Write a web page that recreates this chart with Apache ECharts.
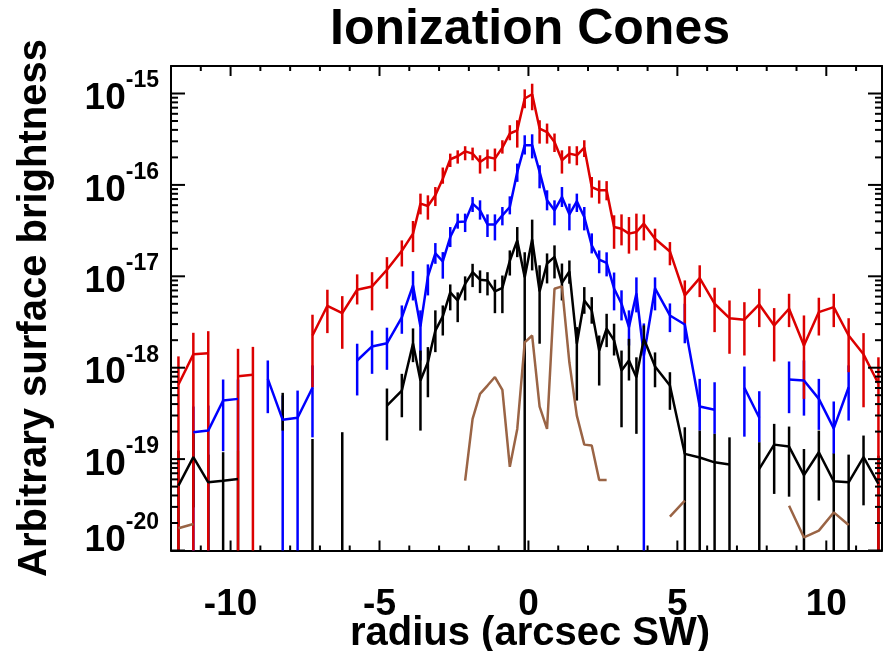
<!DOCTYPE html>
<html>
<head>
<meta charset="utf-8">
<script src="https://cdn.jsdelivr.net/npm/echarts@6/dist/echarts.min.js"></script>
<style>
html,body{margin:0;padding:0;background:#fff;}
#main{width:885px;height:651px;}
</style>
</head>
<body>
<div id="main"></div>
<script>
// ---------------- data ----------------
const titleText = 'Ionization Cones';
const xTitle = 'radius (arcsec SW)';
const yTitle = 'Arbitrary surface brightness';

const xs = [-11.75,-11.25,-10.75,-10.25,-9.75,-9.25,-8.75,-8.25,-7.75,-7.25,-6.75,-6.25,-5.75,-5.25,-4.75,-4.25,
  -3.875,-3.625,-3.375,-3.125,-2.875,-2.625,-2.375,-2.125,-1.875,-1.625,-1.375,-1.125,-0.875,-0.625,-0.375,-0.125,
  0.125,0.375,0.625,0.875,1.125,1.375,1.625,1.875,2.125,2.375,2.625,2.875,3.125,3.375,3.625,3.875,
  4.25,4.75,5.25,5.75,6.25,6.75,7.25,7.75,8.25,8.75,9.25,9.75,10.25,10.75,11.25,11.75];

const redY = [6.55e-19,1.40e-18,1.44e-18,null,8.07e-19,8.36e-19,null,null,null,2.25e-18,4.76e-18,3.95e-18,7.13e-18,7.75e-18,1.18e-17,1.90e-17,
  2.93e-17,6.24e-17,5.87e-17,7.69e-17,1.17e-16,1.91e-16,2.06e-16,2.33e-16,2.20e-16,1.78e-16,2.02e-16,1.94e-16,2.56e-16,3.65e-16,3.96e-16,8.81e-16,
  9.82e-16,4.14e-16,3.79e-16,2.95e-16,1.86e-16,2.20e-16,2.11e-16,2.56e-16,9.48e-17,8.73e-17,8.73e-17,3.46e-17,3.32e-17,2.93e-17,3.05e-17,3.77e-17,
  2.58e-17,1.87e-17,6.18e-18,9.55e-18,5.01e-18,3.48e-18,3.35e-18,4.92e-18,2.90e-18,4.42e-18,1.75e-18,4.06e-18,4.60e-18,2.25e-18,1.40e-18,6.67e-19];
const redHi = [1.33e-18,2.41e-18,2.51e-18,null,1.61e-18,1.69e-18,null,null,null,3.80e-18,7.13e-18,6.07e-18,1.05e-17,1.11e-17,1.62e-17,2.47e-17,
  4.03e-17,8.03e-17,7.69e-17,9.48e-17,1.55e-16,2.20e-16,2.39e-16,2.65e-16,2.56e-16,2.11e-16,2.44e-16,2.50e-16,3.08e-16,4.50e-16,5.10e-16,1.11e-15,
  1.28e-15,5.10e-16,4.69e-16,3.65e-16,2.39e-16,2.65e-16,2.65e-16,3.08e-16,1.22e-16,1.12e-16,1.10e-16,4.65e-17,4.76e-17,4.45e-17,4.85e-17,4.76e-17,
  3.32e-17,2.37e-17,9.02e-18,1.32e-17,7.50e-18,5.44e-18,5.21e-18,7.31e-18,4.49e-18,6.44e-18,3.73e-18,5.83e-18,6.44e-18,3.48e-18,2.39e-18,1.30e-18];
const redLo = [0,0,0,null,0,0,null,null,null,6.11e-19,2.39e-18,1.61e-18,4.92e-18,4.24e-18,7.31e-18,1.28e-17,
  1.84e-17,4.76e-17,4.17e-17,5.87e-17,1.03e-16,1.57e-16,1.71e-16,1.86e-16,1.86e-16,1.33e-16,1.51e-16,1.41e-16,2.20e-16,3.08e-16,2.56e-16,6.90e-16,
  6.56e-16,2.83e-16,2.83e-16,2.29e-16,1.33e-16,1.71e-16,1.64e-16,2.02e-16,7.26e-17,6.24e-17,6.78e-17,2.00e-17,2.18e-17,1.77e-17,1.92e-17,2.47e-17,
  1.92e-17,1.32e-17,3.03e-18,5.92e-18,2.45e-18,1.42e-18,1.36e-18,2.78e-18,1.17e-18,2.78e-18,4.56e-19,2.25e-18,2.78e-18,8.93e-19,3.69e-19,0];

const blueY = [null,1.97e-19,2.05e-19,4.37e-19,4.56e-19,null,7.55e-19,2.69e-19,2.83e-19,6.03e-19,null,null,1.20e-18,1.71e-18,1.85e-18,3.55e-18,
  7.94e-18,2.83e-18,9.98e-18,1.78e-17,1.46e-17,2.69e-17,3.93e-17,3.99e-17,6.24e-17,5.27e-17,3.70e-17,3.70e-17,4.65e-17,5.73e-17,1.38e-16,2.72e-16,
  2.72e-16,1.39e-16,6.78e-17,5.27e-17,7.36e-17,4.76e-17,6.61e-17,4.45e-17,2.18e-17,1.52e-17,1.40e-17,7.36e-18,5.01e-18,2.78e-18,6.50e-18,1.36e-18,
  7.36e-18,3.73e-18,2.97e-18,3.76e-19,3.46e-19,null,6.03e-19,2.83e-19,null,7.43e-19,7.24e-19,4.56e-19,2.17e-19,6.11e-19,null,null];
const blueHi = [null,3.76e-19,3.85e-19,7.43e-19,7.43e-19,null,1.20e-18,4.97e-19,5.62e-19,1.06e-18,null,null,1.83e-18,2.55e-18,2.74e-18,4.80e-18,
  1.14e-17,4.24e-18,1.35e-17,2.31e-17,1.84e-17,3.46e-17,4.85e-17,4.85e-17,7.36e-17,6.78e-17,4.76e-17,4.76e-17,5.73e-17,7.50e-17,1.71e-16,3.49e-16,
  3.58e-16,1.64e-16,8.73e-17,6.78e-17,9.48e-17,6.24e-17,8.03e-17,5.73e-17,2.95e-17,1.92e-17,1.83e-17,1.10e-17,7.02e-18,4.24e-18,9.73e-18,3.05e-18,
  9.73e-18,5.05e-18,5.01e-18,7.55e-19,6.93e-19,null,1.03e-18,5.53e-19,null,1.17e-18,1.20e-18,7.55e-19,4.27e-19,1.06e-18,null,null];
const blueLo = [null,0,0,1.22e-19,1.24e-19,null,3.18e-19,0,0,1.73e-19,null,null,4.97e-19,8.57e-19,9.48e-19,2.35e-18,
  5.44e-18,1.20e-18,6.18e-18,1.37e-17,9.42e-18,2.09e-17,3.32e-17,3.05e-17,5.05e-17,4.17e-17,2.69e-17,2.47e-17,3.61e-17,4.76e-17,1.08e-16,2.15e-16,
  1.95e-16,9.18e-17,5.27e-17,3.61e-17,5.73e-17,3.18e-17,5.05e-17,3.18e-17,1.78e-17,1.08e-17,9.98e-18,4.24e-18,3.29e-18,1.75e-18,4.03e-18,0,
  4.24e-18,2.45e-18,1.85e-18,2.05e-19,1.89e-19,null,1.76e-19,1.53e-19,null,3.18e-19,2.99e-19,2.09e-19,1.14e-19,2.64e-19,null,null];

const blackY = [5.13e-20,1.05e-19,5.57e-20,5.81e-20,6.07e-20,null,null,3.31e-19,null,7.48e-20,null,8.49e-20,null,null,3.85e-19,5.62e-19,
  1.84e-18,7.24e-19,1.15e-18,2.55e-18,3.64e-18,6.67e-18,5.44e-18,8.26e-18,1.11e-17,9.18e-18,9.02e-18,6.84e-18,7.46e-18,1.48e-17,2.47e-17,9.79e-18,
  2.54e-17,6.84e-18,1.38e-17,1.63e-17,8.47e-18,1.13e-17,1.83e-18,5.44e-18,4.24e-18,1.54e-18,2.67e-18,1.99e-18,9.33e-19,1.20e-18,7.87e-19,2.07e-18,
  1.03e-18,6.38e-19,1.14e-19,1.04e-19,9.22e-20,8.71e-20,null,7.82e-20,1.44e-19,1.37e-19,6.68e-20,1.19e-19,5.71e-20,5.57e-20,1.05e-19,5.35e-20];
const blackHi = [1.24e-19,1.89e-19,1.12e-19,1.19e-19,1.24e-19,null,null,5.31e-19,null,1.66e-19,null,1.97e-19,null,null,5.92e-19,8.57e-19,
  2.69e-18,1.54e-18,1.68e-18,4.24e-18,4.80e-18,8.15e-18,6.67e-18,9.98e-18,1.37e-17,1.16e-17,1.11e-17,9.18e-18,1.02e-17,1.92e-17,3.46e-17,1.83e-17,
  4.17e-17,1.32e-17,1.78e-17,2.18e-17,1.38e-17,1.49e-17,2.78e-18,7.62e-18,5.92e-18,2.25e-18,3.89e-18,3.03e-18,1.54e-18,2.07e-18,1.30e-18,2.90e-18,
  1.47e-18,8.93e-19,2.23e-19,2.05e-19,1.89e-19,1.73e-19,null,1.53e-19,2.43e-19,2.27e-19,1.29e-19,2.05e-19,1.15e-19,1.12e-19,1.81e-19,1.09e-19];
const blackLo = [0,2.96e-20,0,0,0,null,null,2.05e-19,null,0,null,0,null,null,1.60e-19,2.87e-19,
  1.15e-18,2.05e-19,4.75e-19,1.48e-18,2.25e-18,4.24e-18,3.15e-18,5.44e-18,7.62e-18,6.55e-18,6.18e-18,3.95e-18,3.95e-18,1.02e-17,1.62e-17,0,
  1.16e-17,1.83e-18,8.36e-18,9.48e-18,5.44e-18,8.30e-18,4.37e-19,3.89e-18,3.03e-18,6.38e-19,1.68e-18,1.36e-18,2.23e-19,7.24e-19,1.89e-19,1.54e-18,
  6.11e-19,3.46e-19,0,0,0,0,null,0,4.16e-20,3.88e-20,0,3.52e-20,0,0,3.12e-20,0];

const brownY = [1.75e-20,1.95e-20,null,null,null,null,null,null,null,null,null,null,null,null,null,null,
  null,null,null,null,null,null,null,5.81e-20,2.75e-19,5.18e-19,6.38e-19,7.91e-19,5.73e-19,8.22e-20,2.14e-19,1.89e-18,
  2.25e-18,3.76e-19,2.14e-19,7.31e-18,7.75e-18,1.14e-18,2.99e-19,1.44e-19,1.41e-19,5.92e-20,5.92e-20,null,null,null,null,null,
  null,2.35e-20,3.51e-20,null,null,null,null,null,null,3.09e-20,1.39e-20,1.65e-20,2.61e-20,1.90e-20,null,null];

// axis ticks
const xMin = -12, xMax = 11.87;
const yMin = 1e-20, yMax = 2e-15;
const xMajorTicks = [-10, -5, 0, 5, 10];
const xMinorTicks = [-11,-9,-8,-7,-6,-4,-3,-2,-1,1,2,3,4,6,7,8,9,11];
const yMajorTicks = [1e-20, 1e-19, 1e-18, 1e-17, 1e-16, 1e-15];
const yMinorMult = [2,3,4,5,6,7,8,9];

const COLORS = { red: '#dc0000', blue: '#0000ff', black: '#000000', brown: '#9a6445' };
const FONT = '"Liberation Sans", Arial, Helvetica, sans-serif';
const LW = 2.5;

// ---------------- build ----------------
function lineData(y) { return xs.map((x, i) => [x, y[i] == null ? '-' : y[i]]); }
function barData(y, hi, lo) {
  const out = [];
  xs.forEach((x, i) => { if (y[i] != null && hi[i] != null) out.push([x, hi[i], lo[i]]); });
  return out;
}
function barSeries(name, y, hi, lo, color) {
  return {
    name: name + ' err', type: 'custom', xAxisIndex: 0, yAxisIndex: 0,
    data: barData(y, hi, lo), encode: { x: 0, y: 1 }, silent: true,
    renderItem: function (params, api) {
      const cs = params.coordSys;
      const x = api.value(0), hi = api.value(1), lo = api.value(2);
      const pTop = api.coord([x, hi]);
      const yb = lo > 0 ? api.coord([x, lo])[1] : cs.y + cs.height;
      return { type: 'line', shape: { x1: pTop[0], y1: pTop[1], x2: pTop[0], y2: yb },
        style: { stroke: color, lineWidth: LW } };
    }
  };
}
function lineSeries(name, y, color) {
  return {
    name: name, type: 'line', xAxisIndex: 0, yAxisIndex: 0, data: lineData(y),
    showSymbol: false, symbol: 'none', connectNulls: false, clip: true,
    lineStyle: { color: color, width: LW }, itemStyle: { color: color }, silent: true
  };
}

const yMinorTicks = [];
for (let e = -20; e <= -15; e++) {
  yMinorMult.forEach(m => { const v = m * Math.pow(10, e); if (v < yMax * 0.999) yMinorTicks.push(v); });
}
const tickData = [];
xMajorTicks.forEach(v => tickData.push([v, yMin, 0]));
xMinorTicks.forEach(v => tickData.push([v, yMin, 1]));
yMajorTicks.forEach(v => tickData.push([xMin, v, 2]));
yMinorTicks.forEach(v => tickData.push([xMin, v, 3]));

const tickSeries = {
  type: 'custom', xAxisIndex: 0, yAxisIndex: 0, data: tickData, encode: { x: 0, y: 1 }, silent: true, z: 5,
  renderItem: function (params, api) {
    const cs = params.coordSys;
    const kind = api.value(2);
    const st = { stroke: '#000', lineWidth: 2 };
    if (kind <= 1) {
      const px = api.coord([api.value(0), yMin])[0];
      const L = kind === 0 ? 10 : 5;
      const yb = cs.y + cs.height, yt = cs.y;
      return { type: 'group', children: [
        { type: 'line', shape: { x1: px, y1: yb, x2: px, y2: yb - L }, style: st },
        { type: 'line', shape: { x1: px, y1: yt, x2: px, y2: yt + L }, style: st }
      ] };
    } else {
      const py = api.coord([xMin, api.value(1)])[1];
      const L = kind === 2 ? 14 : 7;
      const xl = cs.x, xr = cs.x + cs.width;
      return { type: 'group', children: [
        { type: 'line', shape: { x1: xl, y1: py, x2: xl + L, y2: py }, style: st },
        { type: 'line', shape: { x1: xr, y1: py, x2: xr - L, y2: py }, style: st }
      ] };
    }
  }
};

const chart = echarts.init(document.getElementById('main'), null, { renderer: 'canvas' });
const axisLineStyle = { show: true, onZero: false, lineStyle: { color: '#000', width: 2 } };
chart.setOption({
  animation: false,
  backgroundColor: '#fff',
  grid: { left: 171, top: 66, width: 713.5, height: 484.5, containLabel: false },
  xAxis: [
    { type: 'value', position: 'bottom', min: xMin, max: xMax, interval: 1,
      axisLine: axisLineStyle, axisTick: { show: false }, splitLine: { show: false },
      axisLabel: { margin: 36, fontSize: 37, fontWeight: 'bold', color: '#000', fontFamily: FONT,
        formatter: function (v) { return xMajorTicks.indexOf(v) >= 0 ? String(v) : ''; } } },
    { type: 'value', position: 'top', min: xMin, max: xMax, interval: 1,
      axisLine: axisLineStyle, axisTick: { show: false }, splitLine: { show: false }, axisLabel: { show: false } }
  ],
  yAxis: [
    { type: 'log', logBase: 10, position: 'left', min: yMin, max: yMax,
      axisLine: axisLineStyle, axisTick: { show: false }, splitLine: { show: false },
      axisLabel: { margin: 12, color: '#000', fontFamily: FONT,
        formatter: function (v) {
          const e = Math.log10(v), r = Math.round(e);
          if (Math.abs(e - r) > 0.01) return '';
          if (r === -20) return '{b|10}{s|' + r + '}\n{g| }';
          return '{b|10}{s|' + r + '}';
        },
        rich: {
          b: { fontSize: 37, fontWeight: 'bold', fontFamily: FONT, color: '#000', lineHeight: 48, verticalAlign: 'bottom' },
          s: { fontSize: 23, fontWeight: 'bold', fontFamily: FONT, color: '#000', lineHeight: 24, verticalAlign: 'top' },
          g: { fontSize: 10, lineHeight: 30 }
        } } },
    { type: 'log', logBase: 10, position: 'right', min: yMin, max: yMax,
      axisLine: axisLineStyle, axisTick: { show: false }, splitLine: { show: false }, axisLabel: { show: false } }
  ],
  graphic: [
    { type: 'text', x: 530, y: 30, style: { text: titleText, font: 'bold 50px ' + FONT, fill: '#000', textAlign: 'center', textVerticalAlign: 'middle' } },
    { type: 'text', x: 530, y: 634, style: { text: xTitle, font: 'bold 40px ' + FONT, fill: '#000', textAlign: 'center', textVerticalAlign: 'middle' } },
    { type: 'text', x: 35, y: 308, rotation: Math.PI / 2, style: { text: yTitle, font: 'bold 40px ' + FONT, fill: '#000', textAlign: 'center', textVerticalAlign: 'middle' } }
  ],
  series: [
    barSeries('blue', blueY, blueHi, blueLo, COLORS.blue),
    lineSeries('blue', blueY, COLORS.blue),
    barSeries('black', blackY, blackHi, blackLo, COLORS.black),
    lineSeries('black', blackY, COLORS.black),
    barSeries('red', redY, redHi, redLo, COLORS.red),
    lineSeries('red', redY, COLORS.red),
    lineSeries('brown', brownY, COLORS.brown),
    tickSeries
  ]
});
</script>
</body>
</html>
